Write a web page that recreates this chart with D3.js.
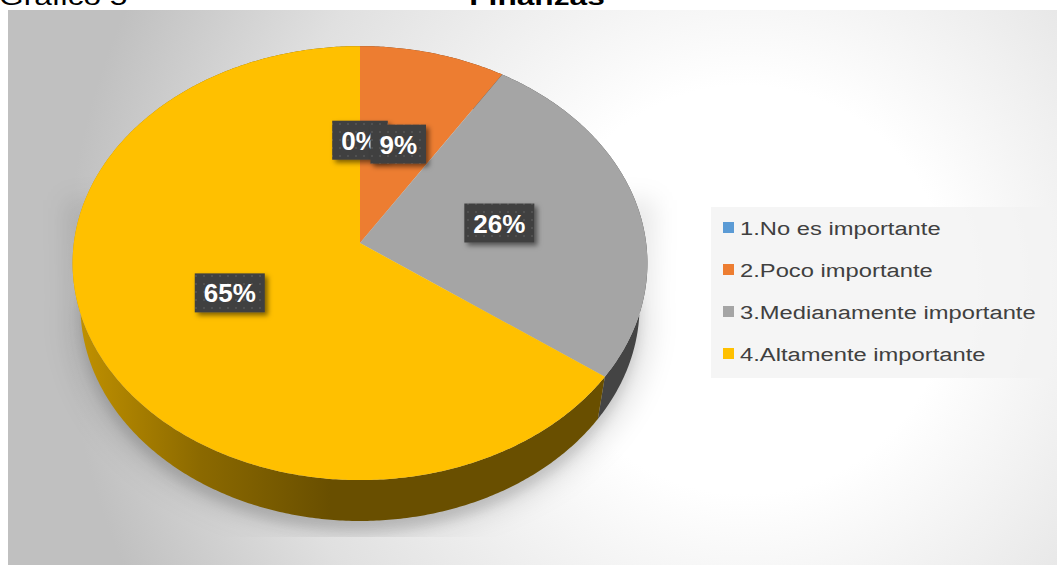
<!DOCTYPE html>
<html>
<head>
<meta charset="utf-8">
<script src="https://cdn.jsdelivr.net/npm/d3@7"></script>
<style>
  html, body { margin: 0; padding: 0; background: #ffffff; overflow: hidden; }
  svg { display: block; font-family: "Liberation Sans", Arial, sans-serif; }
</style>
</head>
<body>
<svg id="chart" width="1057" height="565"></svg>
<script>
// ---- data ----
const categories = ["1.No es importante", "2.Poco importante", "3.Medianamente importante", "4.Altamente importante"];
const shares = [0, 9, 26, 65];
const percentLabels = ["0%", "9%", "26%", "65%"];
const sliceColors = ["#5b9bd5", "#ed7d31", "#a5a5a5", "#ffc000"];
const chartTitle = "Finanzas";
const figureCaption = "Gráfico 5";

// ---- setup ----
const W = 1057, H = 565;
const svg = d3.select("#chart");
const defs = svg.append("defs");

// chart area background: soft radial fill
const bg = defs.append("radialGradient").attr("id", "bgGrad")
  .attr("gradientUnits", "userSpaceOnUse")
  .attr("cx", 745).attr("cy", 290).attr("r", 680);
bg.append("stop").attr("offset", 0).attr("stop-color", "#ffffff");
bg.append("stop").attr("offset", 0.3).attr("stop-color", "#ffffff");
bg.append("stop").attr("offset", 0.72).attr("stop-color", "#e0e0e0");
bg.append("stop").attr("offset", 1).attr("stop-color", "#c0c0c0");

svg.append("rect").attr("x", 8).attr("y", 10).attr("width", W - 8).attr("height", H - 10)
  .attr("fill", "url(#bgGrad)");

// caption and title (sit above the chart area)
svg.append("text").attr("transform", "translate(-1,5) scale(1.32,1)")
  .attr("font-size", 24).attr("fill", "#000").text(figureCaption);
svg.append("text").attr("transform", "translate(537,5) scale(1.32,1)")
  .attr("text-anchor", "middle").attr("font-size", 24).attr("font-weight", "bold")
  .attr("fill", "#000").text(chartTitle);

// ---- 3D pie projection ----
const cx = 360, cy = 243;
const tilt = 50.2 * Math.PI / 180;
const dist = 6.9, focal = 1932, thick = 0.25, stretchX = 1.022;

// phi: clockwise angle from 12 o'clock, rho: radius (0..1), Y: height (0 = top face)
function project(phi, rho, Y) {
  const X = rho * Math.sin(phi), Z = -rho * Math.cos(phi);
  const yr = Y * Math.cos(tilt) - Z * Math.sin(tilt);
  const zr = Y * Math.sin(tilt) + Z * Math.cos(tilt);
  const s = focal / (dist - zr);
  return [cx + X * s * stretchX, cy - yr * s];
}

function arcPoints(a0, a1, Y) {
  const n = Math.max(2, Math.ceil(Math.abs(a1 - a0) / 0.01));
  const pts = [];
  for (let i = 0; i <= n; i++) pts.push(project(a0 + (a1 - a0) * i / n, 1, Y));
  return pts;
}

const pie = d3.pie().sort(null).value(d => d).startAngle(0).endAngle(2 * Math.PI);
const arcs = pie(shares);
const line = d3.line();

// ---- shadow under the pie ----
function blurFilter(id, sd) {
  const f = defs.append("filter").attr("id", id)
    .attr("x", "-30%").attr("y", "-30%").attr("width", "160%").attr("height", "160%");
  f.append("feGaussianBlur").attr("stdDeviation", sd);
}
blurFilter("softBlur", 12);
blurFilter("tightBlur", 6);
defs.append("clipPath").attr("id", "floorClip")
  .append("rect").attr("x", 8).attr("y", 10).attr("width", W).attr("height", 527);

const shadowG = svg.append("g").attr("clip-path", "url(#floorClip)");
const frontHalf = arcPoints(Math.PI / 2, 3 * Math.PI / 2, -thick)
  .map(([x, y]) => [cx + (x - cx) * 1.05, y + 16]);
const shadowOutline = [[cx + 295, 200]].concat(frontHalf).concat([[cx - 295, 200]]);
shadowG.append("path").attr("d", line(shadowOutline) + "Z")
  .attr("fill", "#000").attr("fill-opacity", 0.09).attr("filter", "url(#softBlur)");
const underPie = arcPoints(Math.PI / 2, 3 * Math.PI / 2, -thick)
  .map(([x, y]) => [cx + (x - cx) * 1.0, y + 10]);
shadowG.append("path").attr("d", line(underPie) + "Z")
  .attr("fill", "#000").attr("fill-opacity", 0.14).attr("filter", "url(#tightBlur)");

// ---- side walls ----
arcs.forEach((a, i) => {
  const base = d3.rgb(sliceColors[i]);
  const g = defs.append("linearGradient").attr("id", "side" + i)
    .attr("gradientUnits", "userSpaceOnUse")
    .attr("x1", 72).attr("y1", 0).attr("x2", 330).attr("y2", 0);
  g.append("stop").attr("offset", 0).attr("stop-color", base.darker(0.75));
  g.append("stop").attr("offset", 0.5).attr("stop-color", base.darker(1.7));
  g.append("stop").attr("offset", 1).attr("stop-color", base.darker(2.5));
});

const sideG = svg.append("g");
arcs.forEach((a, i) => {
  if (a.endAngle - a.startAngle <= 0) return;
  const top = arcPoints(a.startAngle, a.endAngle, 0);
  const bottom = arcPoints(a.startAngle, a.endAngle, -thick).reverse();
  sideG.append("path").attr("d", line(top.concat(bottom)) + "Z")
    .attr("fill", `url(#side${i})`);
});

// ---- top faces ----
const topG = svg.append("g");
arcs.forEach((a, i) => {
  if (a.endAngle - a.startAngle <= 0) return;
  const pts = [project(0, 0, 0)].concat(arcPoints(a.startAngle, a.endAngle, 0));
  topG.append("path").attr("d", line(pts) + "Z").attr("fill", sliceColors[i]);
});

// ---- data labels ----
const dots = defs.append("pattern").attr("id", "dots").attr("patternUnits", "userSpaceOnUse")
  .attr("width", 8).attr("height", 8);
dots.append("rect").attr("width", 8).attr("height", 8).attr("fill", "#404040");
dots.append("circle").attr("cx", 4).attr("cy", 4).attr("r", 1.1).attr("fill", "#555555");

const drop = defs.append("filter").attr("id", "labelShadow")
  .attr("x", "-30%").attr("y", "-30%").attr("width", "170%").attr("height", "170%");
drop.append("feDropShadow").attr("dx", 3).attr("dy", 3).attr("stdDeviation", 2.5)
  .attr("flood-color", "#000").attr("flood-opacity", 0.5);

const labelG = svg.append("g");
arcs.forEach((a, i) => {
  const mid = (a.startAngle + a.endAngle) / 2;
  const [lx, ly] = project(mid, 0.5, 0);
  const g = labelG.append("g");
  const box = g.append("rect").attr("fill", "url(#dots)").attr("filter", "url(#labelShadow)");
  const t = g.append("text").attr("x", lx).attr("y", ly + 9.5)
    .attr("text-anchor", "middle").attr("font-size", 26).attr("font-weight", "bold")
    .attr("fill", "#ffffff").text(percentLabels[i]);
  const tw = t.node().getComputedTextLength();
  const bw = tw + 18, bh = 39;
  box.attr("x", lx - bw / 2).attr("y", ly - bh / 2).attr("width", bw).attr("height", bh);
});

// ---- legend ----
const legendG = svg.append("g");
legendG.append("rect").attr("x", 711).attr("y", 207).attr("width", 339).attr("height", 171)
  .attr("fill", "#f2f2f2").attr("fill-opacity", 0.8);
const rowScale = d3.scaleBand().domain(categories).range([207, 375]);
categories.forEach((c, i) => {
  const yc = rowScale(c) + rowScale.bandwidth() / 2;
  legendG.append("rect").attr("x", 723).attr("y", yc - 6).attr("width", 11).attr("height", 11)
    .attr("fill", sliceColors[i]);
  legendG.append("text").attr("transform", `translate(740,${yc + 6.5}) scale(1.32,1)`)
    .attr("font-size", 18).attr("fill", "#404040").text(c);
});
</script>
</body>
</html>
